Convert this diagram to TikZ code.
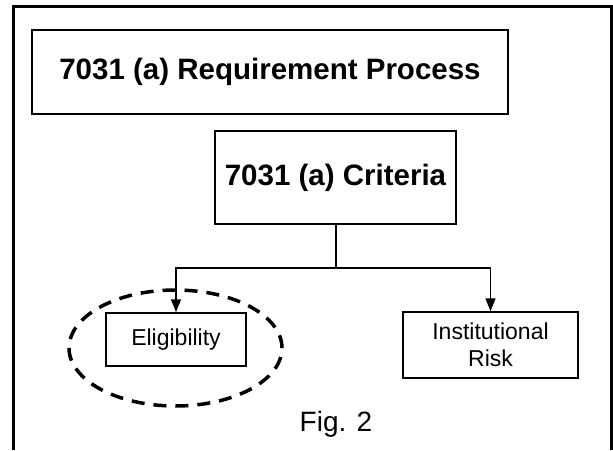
\documentclass[tikz,border=0pt]{standalone}
\usepackage{fontspec}
\setmainfont{Liberation Sans}
\usetikzlibrary{arrows.meta,shapes.geometric}

\begin{document}
\begin{tikzpicture}[x=1pt,y=-1pt,
    box/.style={draw,line width=1.5pt,inner sep=0pt,align=center},
    headbox/.style={box,font=\fontsize{29.5}{34}\selectfont\bfseries},
    smallbox/.style={box,font=\fontsize{23}{27}\selectfont},
    dashring/.style={ellipse,draw,line width=3.5pt,dash pattern=on 13pt off 9pt,inner sep=0pt},
    tip/.style={-{Triangle[length=13pt,width=10pt]},line width=1.5pt}]

  \useasboundingbox (0,0) rectangle (613,450);

  % frame, open at the bottom
  \draw[line width=3pt] (13,450) -- (13,6) -- (611,6) -- (611,450);

  \node[headbox,minimum width=476pt,minimum height=84pt] (title) at (270,72) {7031 (a) Requirement Process};
  \node[headbox,minimum width=241pt,minimum height=93pt] (crit) at (335.5,177.5) {7031 (a) Criteria};

  \node[smallbox,minimum width=140pt,minimum height=53pt] (elig) at (176,339.5) {Eligibility};
  \node[smallbox,minimum width=175pt,minimum height=66pt] (risk) at (490.5,345) {Institutional\\Risk};

  \node[dashring,minimum width=213pt,minimum height=116pt] (ring) at (175.5,348) {};

  \coordinate (split) at (336,268);
  \draw[line width=1.5pt] (crit.south -| split) -- (split);
  \draw[tip] (split) -| (elig.north);
  \draw[tip] (split) -| (risk.north);

  \node[font=\fontsize{28}{32}\selectfont] (fig) at (336,424) {Fig. 2};

\end{tikzpicture}
\end{document}
